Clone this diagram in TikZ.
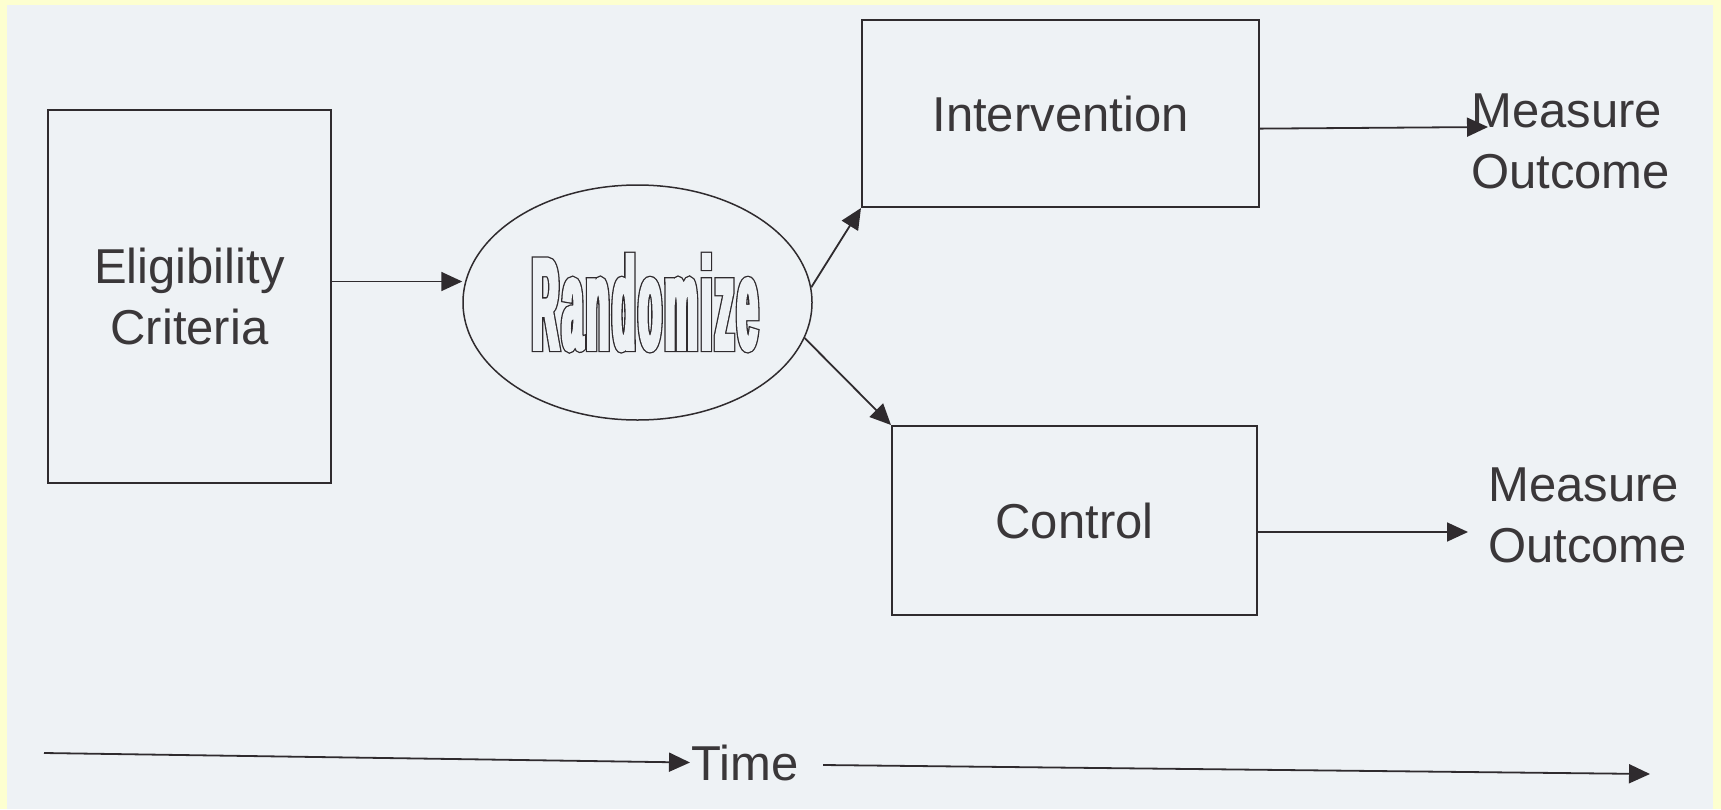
\documentclass[tikz,border=0pt]{standalone}
\usepackage{fontspec}
\setmainfont{Liberation Sans}
\newfontfamily\randA[FakeStretch=0.28,FakeBold=5,LetterSpace=3]{Liberation Sans Bold}
\newfontfamily\randB[FakeStretch=0.28,FakeBold=3,LetterSpace=3]{Liberation Sans Bold}
\usetikzlibrary{arrows.meta,shapes.geometric,calc}
\definecolor{paper}{HTML}{EEF2F5}
\definecolor{frame}{HTML}{FDFFD0}
\definecolor{ink}{HTML}{2F2B2E}
\definecolor{txt}{HTML}{3A3739}
\begin{document}
\begin{tikzpicture}[x=1pt,y=-1pt,
  every node/.style={font=\fontsize{49}{61}\selectfont, text=txt},
  box/.style={draw=ink, line width=2pt, rectangle, inner sep=0pt, align=center},
  conn/.style={draw=ink, line width=1.8pt, -{Triangle[length=21pt,width=19pt]}},
  outtext/.style={inner sep=0pt, align=left, anchor=west}]
\fill[frame] (0,0) rectangle (1721,809);
\fill[paper] (7,5) rectangle (1713,809);
\useasboundingbox (0,0) rectangle (1721,809);

\node[box, minimum width=283pt, minimum height=373pt] (elig) at (189.5,296.5) {Eligibility\\Criteria};
\node[box, minimum width=397pt, minimum height=187pt] (interv) at (1060.5,113.5) {Intervention};
\node[box, minimum width=365pt, minimum height=189pt] (ctrl) at (1074.5,520.5) {Control};
\node[draw=ink, line width=1.5pt, ellipse, minimum width=349pt, minimum height=235pt, inner sep=0pt] (rand) at (637.5,302.5)
  {\hspace*{15pt}{\fontsize{130}{130}\selectfont\ooalign{\textcolor{ink}{\randA Randomize}\cr\textcolor{paper}{\randB Randomize}}}};
\node[outtext] (mo1) at (1471,141) {Measure\\Outcome};
\node[outtext] (mo2) at (1488,515) {Measure\\Outcome};
\node[inner sep=1.5pt, anchor=west] (time) at (690,762.5) {Time};

\coordinate (e1) at ($(elig.south east)!0.54!(elig.north east)$);
\draw[conn] (e1) -- (rand.west |- e1);
\draw[conn] (rand.5) -- (interv.south west);
\draw[conn] (rand.-12) -- (ctrl.north west);
\coordinate (m1) at (1488,127);
\coordinate (m2) at (1468,532);
\draw[conn] ($(interv.south east)!0.42!(interv.north east)$) -- (m1);
\draw[conn] ($(ctrl.south east)!0.44!(ctrl.north east)$) -- (m2);
\coordinate (t0) at (44,753);
\coordinate (t1) at (823,765);
\coordinate (t2) at (1650,774);
\draw[conn] (t0) -- (time.west);
\draw[conn] (t1) -- (t2);
\end{tikzpicture}
\end{document}
